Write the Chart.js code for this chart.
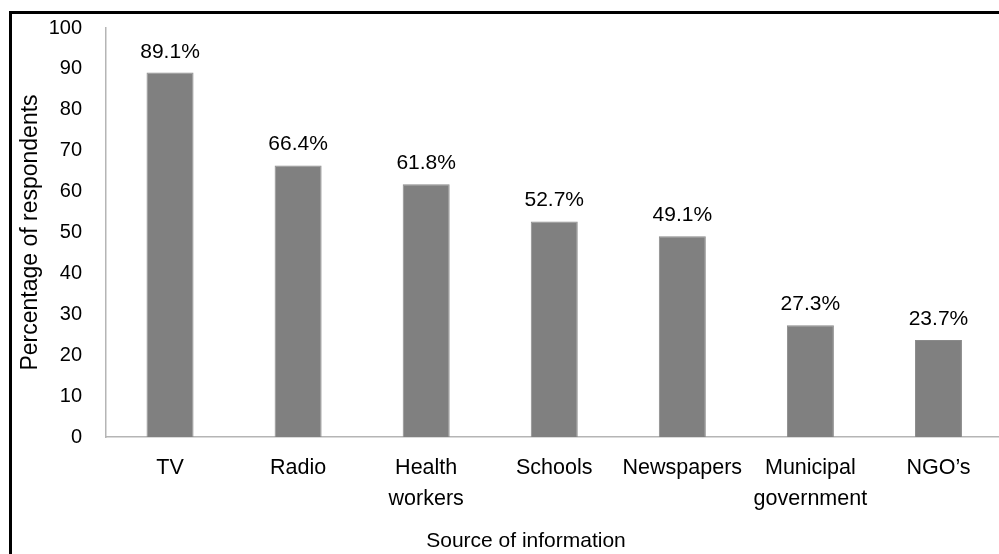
<!DOCTYPE html>
<html>
<head>
<meta charset="utf-8">
<script src="https://cdn.jsdelivr.net/npm/chart.js@4/dist/chart.umd.min.js"></script>
<style>
  html, body { margin: 0; padding: 0; background: #fff; overflow: hidden; }
  #frame {
    position: absolute; left: 9px; top: 11px; width: 1100px; height: 700px;
    border-left: 3px solid #000; border-top: 3px solid #000;
  }
  #wrap { position: absolute; left: 0; top: 0; width: 1052px; height: 560px; }
</style>
</head>
<body>
<div id="frame"></div>
<div id="wrap"><canvas id="chart" width="1052" height="560"></canvas></div>
<script>
// Данные диаграммы
const categories = ['TV', 'Radio', ['Health', 'workers'], 'Schools', 'Newspapers', ['Municipal', 'government'], 'NGO’s'];
const values = [89.1, 66.4, 61.8, 52.7, 49.1, 27.3, 23.7];
const yTicks = [0, 10, 20, 30, 40, 50, 60, 70, 80, 90, 100];
const xTitle = 'Source of information';
const yTitle = 'Percentage of respondents';

const FONT = "'Liberation Sans', Arial, sans-serif";

// Подписи над столбцами и подпись оси X (центрирована по всей рамке)
const barLabels = {
  id: 'barLabels',
  afterDatasetsDraw(chart) {
    const ctx = chart.ctx;
    const meta = chart.getDatasetMeta(0);
    ctx.save();
    ctx.font = '21px ' + FONT;
    ctx.fillStyle = '#000';
    ctx.textAlign = 'center';
    ctx.textBaseline = 'alphabetic';
    meta.data.forEach((bar, i) => {
      ctx.fillText(values[i].toFixed(1) + '%', bar.x, bar.y - 15);
    });
    ctx.font = '21px ' + FONT;
    ctx.textBaseline = 'middle';
    ctx.fillText(xTitle, chart.width / 2, chart.height - 19);
    ctx.restore();
  }
};

new Chart(document.getElementById('chart'), {
  type: 'bar',
  data: {
    labels: categories,
    datasets: [{
      data: values,
      backgroundColor: '#808080',
      borderColor: '#8a8a8a',
      borderWidth: 1,
      barPercentage: 0.367,
      categoryPercentage: 1
    }]
  },
  options: {
    responsive: false,
    animation: false,
    layout: { padding: { top: 28, left: 0, right: 49.5, bottom: 32 } },
    plugins: {
      legend: { display: false },
      tooltip: { enabled: false },
      title: { display: false }
    },
    scales: {
      x: {
        grid: { display: false },
        border: { display: true, color: '#b5b5b5', width: 1.5 },
        ticks: {
          color: '#000',
          font: { family: FONT, size: 21.5, lineHeight: 1.44 },
          padding: 7.5,
          maxRotation: 0,
          autoSkip: false
        },
        afterFit(scale) { scale.height = 91; }
      },
      y: {
        min: 0,
        max: 100,
        afterBuildTicks(scale) { scale.ticks = yTicks.map(v => ({ value: v })); },
        grid: { display: false, drawTicks: false },
        border: { display: true, color: '#b5b5b5', width: 1.5 },
        ticks: {
          color: '#000',
          font: { family: FONT, size: 20 },
          padding: 24
        },
        title: {
          display: true,
          text: yTitle,
          color: '#000',
          font: { family: FONT, size: 23 },
          padding: { top: 17, bottom: 0 }
        },
        afterFit(scale) {
          scale.width = 106;
          scale.paddingTop = 0;
          scale.paddingBottom = 0;
        }
      }
    }
  },
  plugins: [barLabels]
});
</script>
</body>
</html>
